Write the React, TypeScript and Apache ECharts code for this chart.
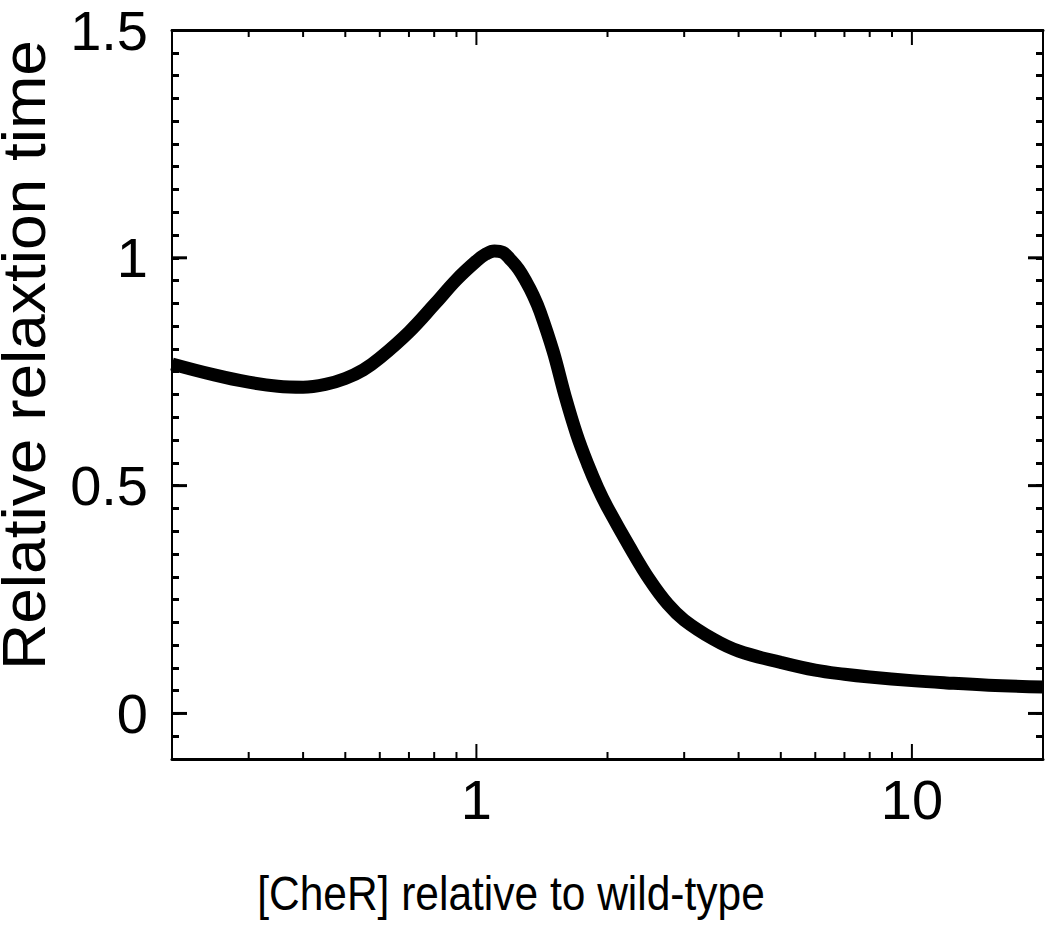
import React, { useEffect, useRef } from "react";
import * as echarts from "echarts";

const X_MIN = 0.2;
const X_MAX = 20;
const Y_MIN = -0.1;
const Y_MAX = 1.5;

const cherLevels = [0.2, 0.25, 0.3, 0.35, 0.4, 0.45, 0.5, 0.55, 0.6, 0.7, 0.8, 0.9, 1.0, 1.05, 1.1, 1.15, 1.2, 1.25, 1.3, 1.35, 1.4, 1.5, 1.6, 1.7, 1.8, 1.9, 2.0, 2.25, 2.5, 2.75, 3.0, 3.5, 4.0, 5.0, 6.0, 7.0, 8.0, 10, 12, 15, 20];
const relaxTimes = [0.767, 0.743, 0.727, 0.718, 0.716, 0.722, 0.735, 0.754, 0.78, 0.837, 0.897, 0.952, 0.993, 1.008, 1.015, 1.012, 0.995, 0.975, 0.948, 0.918, 0.882, 0.795, 0.695, 0.612, 0.548, 0.495, 0.452, 0.365, 0.293, 0.24, 0.205, 0.163, 0.137, 0.112, 0.095, 0.086, 0.08, 0.072, 0.067, 0.062, 0.058];

const xMinorTicks = [0.3, 0.4, 0.5, 0.6, 0.7, 0.8, 0.9, 2, 3, 4, 5, 6, 7, 8, 9];
const xMajorTicks = [1, 10];
const yMajorTicks = [0, 0.5, 1];
const xTickLabels = ["1", "10"];
const yTickLabels = ["0", "0.5", "1", "1.5"];

const FONT = '"Liberation Sans", Arial, Helvetica, sans-serif';
const MINOR_LEN = 7;
const MAJOR_LEN = 15;

export default function App() {
  const ref = useRef<HTMLDivElement>(null);
  useEffect(() => {
    if (!ref.current) return;
    const chart = echarts.init(ref.current, null, { renderer: "svg" });
    const lineData = cherLevels.map((x, i) => [x, relaxTimes[i]]);
    const xTickData = [
      ...xMinorTicks.map((x) => [x, Y_MIN, MINOR_LEN]),
      ...xMajorTicks.map((x) => [x, Y_MIN, MAJOR_LEN]),
    ];
    const yTickData = yMajorTicks.map((y) => [X_MIN, y, MAJOR_LEN]);

    const xTickStyle = { stroke: "#000", lineWidth: 2 };
    const yTickStyle = { stroke: "#000", lineWidth: 3 };

    const baseX = {
      type: "log" as const,
      logBase: 10,
      min: X_MIN,
      max: X_MAX,
      axisLine: { show: true, onZero: false, lineStyle: { color: "#000", width: 3 } },
      axisTick: { show: false },
      splitLine: { show: false },
      minorTick: { show: false },
      minorSplitLine: { show: false },
    };
    const baseY = {
      type: "value" as const,
      min: Y_MIN,
      max: Y_MAX,
      interval: 0.05,
      axisLine: { show: true, onZero: false, lineStyle: { color: "#000", width: 2 } },
      axisTick: { show: true, inside: true, length: MINOR_LEN, lineStyle: { color: "#000", width: 3 } },
      splitLine: { show: false },
    };

    const option = {
      animation: false,
      backgroundColor: "#fff",
      grid: { left: 172, top: 30, right: 7, bottom: 166, containLabel: false },
      xAxis: [
        {
          ...baseX,
          position: "bottom",
          axisLabel: {
            show: true,
            margin: 12,
            fontSize: 56,
            fontFamily: FONT,
            color: "#000",
            showMinLabel: false,
            showMaxLabel: false,
            formatter: (v: number) => {
              const s = String(Math.round(v * 1000) / 1000);
              return xTickLabels.includes(s) ? s : "";
            },
          },
        },
        { ...baseX, position: "top", axisLabel: { show: false } },
      ],
      yAxis: [
        {
          ...baseY,
          position: "left",
          axisLabel: {
            show: true,
            margin: 24,
            fontSize: 56,
            fontFamily: FONT,
            color: "#000",
            formatter: (v: number) => {
              const s = String(Math.round(v * 1000) / 1000);
              return yTickLabels.includes(s) ? s : "";
            },
          },
        },
        { ...baseY, position: "right", axisLabel: { show: false } },
      ],
      graphic: [
        {
          type: "text",
          x: 24,
          y: 355,
          rotation: Math.PI / 2,
          scaleX: 1.05,
          style: {
            text: "Relative relaxtion time",
            font: `61px ${FONT}`,
            lineHeight: 46,
            fill: "#000",
            align: "center",
            verticalAlign: "middle",
          },
        },
        {
          type: "text",
          x: 511,
          y: 893,
          scaleY: 1.15,
          style: {
            text: "[CheR] relative to wild-type",
            font: `42.5px ${FONT}`,
            fill: "#000",
            align: "center",
            verticalAlign: "middle",
          },
        },
      ],
      series: [
        {
          type: "custom",
          xAxisIndex: 0,
          yAxisIndex: 0,
          silent: true,
          clip: false,
          data: xTickData,
          renderItem: (params: any, api: any) => {
            const x = api.value(0);
            const len = api.value(2);
            const pb = api.coord([x, Y_MIN]);
            const pt = api.coord([x, Y_MAX]);
            return {
              type: "group",
              children: [
                { type: "line", shape: { x1: pb[0], y1: pb[1], x2: pb[0], y2: pb[1] - len }, style: xTickStyle },
                { type: "line", shape: { x1: pt[0], y1: pt[1], x2: pt[0], y2: pt[1] + len }, style: xTickStyle },
              ],
            };
          },
        },
        {
          type: "custom",
          xAxisIndex: 0,
          yAxisIndex: 0,
          silent: true,
          clip: false,
          data: yTickData,
          renderItem: (params: any, api: any) => {
            const y = api.value(1);
            const len = api.value(2);
            const pl = api.coord([X_MIN, y]);
            const pr = api.coord([X_MAX, y]);
            return {
              type: "group",
              children: [
                { type: "line", shape: { x1: pl[0], y1: pl[1], x2: pl[0] + len, y2: pl[1] }, style: yTickStyle },
                { type: "line", shape: { x1: pr[0], y1: pr[1], x2: pr[0] - len, y2: pr[1] }, style: yTickStyle },
              ],
            };
          },
        },
        {
          type: "line",
          xAxisIndex: 0,
          yAxisIndex: 0,
          data: lineData,
          smooth: 0.4,
          showSymbol: false,
          symbol: "none",
          clip: false,
          lineStyle: { color: "#000", width: 13, cap: "butt", join: "round" },
          z: 5,
        },
      ],
    };
    chart.setOption(option as any);
    return () => chart.dispose();
  }, []);
  return (
    <div
      ref={ref}
      style={{ position: "absolute", left: 0, top: 0, width: 1050, height: 925 }}
    />
  );
}
